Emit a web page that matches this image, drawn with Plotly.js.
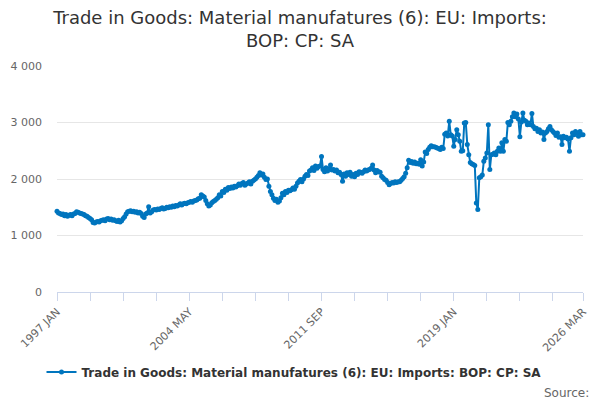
<!DOCTYPE html>
<html>
<head>
<meta charset="utf-8">
<script src="https://cdn.plot.ly/plotly-3.0.1.min.js"></script>
<style>html,body{margin:0;padding:0;background:#fff;}#chart{width:600px;height:400px;}</style>
</head>
<body>
<div id="chart"></div>
<script>
var startYear = 1997;
var monthNames = ["JAN","FEB","MAR","APR","MAY","JUN","JUL","AUG","SEP","OCT","NOV","DEC"];
var seriesName = "Trade in Goods: Material manufatures (6): EU: Imports: BOP: CP: SA";
var values = [
  // 1997
  1430,1400,1390,1370,1380,1350,1370,1340,1360,1370,1350,1380,
  // 1998
  1390,1420,1410,1400,1390,1380,1370,1350,1340,1320,1300,1280,
  // 1999
  1230,1220,1240,1250,1240,1260,1270,1280,1260,1290,1300,1280,
  // 2000
  1290,1270,1280,1260,1250,1270,1240,1260,1300,1330,1380,1420,
  // 2001
  1430,1440,1420,1430,1410,1420,1400,1410,1390,1340,1320,1380,
  // 2002
  1400,1510,1400,1420,1450,1460,1450,1470,1460,1480,1490,1470,
  // 2003
  1480,1500,1490,1510,1500,1520,1510,1530,1520,1540,1560,1540,
  // 2004
  1560,1570,1560,1580,1590,1600,1590,1610,1620,1630,1650,1660,
  // 2005
  1720,1700,1680,1620,1560,1520,1540,1580,1600,1620,1640,1670,
  // 2006
  1720,1700,1780,1760,1820,1800,1850,1830,1860,1840,1870,1860,
  // 2007
  1880,1910,1890,1920,1940,1890,1910,1930,1950,1910,1960,1980,
  // 2008
  2000,2030,2060,2110,2070,2090,2030,1990,2000,1870,1780,1720,
  // 2009
  1660,1620,1640,1590,1610,1670,1750,1720,1780,1760,1800,1790,
  // 2010
  1810,1840,1820,1870,1930,1960,1990,1950,2000,2050,2080,2060,
  // 2011
  2140,2160,2200,2150,2230,2190,2220,2230,2400,2170,2130,2200,
  // 2012
  2140,2180,2250,2160,2170,2140,2160,2110,2120,2080,1960,2090,
  // 2013
  2050,2110,2080,2120,2050,2080,2040,2100,2080,2130,2120,2100,
  // 2014
  2130,2160,2140,2160,2170,2190,2250,2160,2110,2150,2130,2120,
  // 2015
  2050,2020,1990,1980,1940,1900,1920,1940,1930,1950,1940,1950,
  // 2016
  1950,1980,2010,2040,2100,2200,2330,2290,2310,2280,2300,2270,
  // 2017
  2280,2260,2340,2230,2300,2480,2450,2520,2560,2590,2570,2570,
  // 2018
  2560,2550,2540,2520,2560,2540,2790,2815,2760,3020,2785,2760,
  // 2019
  2580,2700,2873,2785,2670,2490,2500,2990,3000,2610,2430,2290,
  // 2020
  2270,2255,2240,1577,1459,2020,2040,2070,2313,2373,2460,2962,
  // 2021
  2166,2430,2440,2460,2430,2490,2550,2490,2640,2490,2700,2670,
  // 2022
  3000,2960,3020,3100,3170,3100,3150,3060,2750,3010,3170,3040,
  // 2023
  3020,2960,2990,2960,3160,2930,2890,2900,2840,2870,2815,2830,
  // 2024
  2700,2815,2840,2890,2930,2870,2840,2815,2770,2815,2740,2750,
  // 2025
  2610,2755,2730,2740,2710,2490,2730,2815,2785,2840,2815,2755,
  // 2026
  2840,2785,2785
];
var tickLabels = ["1997 JAN","2004 MAY","2011 SEP","2019 JAN","2026 MAR"];
var yTicks = [0,1000,2000,3000,4000];

var categories = values.map(function(v,i){
  return (startYear + Math.floor(i/12)) + " " + monthNames[i%12];
});
var xIdx = values.map(function(v,i){ return i; });

var tickvals = [], ticktext = [];
for (var i = 0; i < values.length; i += 22) {
  tickvals.push(i);
  var lab = categories[i];
  ticktext.push(tickLabels.indexOf(lab) >= 0 ? lab : "");
}
tickvals.push(values.length-1);
ticktext.push(categories[values.length-1]);

var trace = {
  x: xIdx, y: values, text: categories,
  type: "scatter", mode: "lines+markers",
  name: seriesName,
  line: {color: "#0075be", width: 2},
  marker: {color: "#0075be", size: 5},
  cliponaxis: false,
  hovertemplate: "%{text}: %{y}<extra></extra>"
};

var layout = {
  width: 600, height: 400,
  margin: {l: 57, r: 17, t: 66, b: 107.5},
  paper_bgcolor: "#fff", plot_bgcolor: "#fff",
  separators: ". ",
  font: {family: "DejaVu Sans, sans-serif", color: "#666", size: 11},
  title: {
    text: "Trade in Goods: Material manufatures (6): EU: Imports:<br>BOP: CP: SA",
    font: {family: "DejaVu Sans, sans-serif", size: 18, color: "#333"},
    x: 0.5, xanchor: "center", xref: "container",
    y: 0.94, yanchor: "middle", yref: "container"
  },
  xaxis: {
    type: "linear", range: [0, values.length-1],
    tickmode: "array", tickvals: tickvals, ticktext: ticktext,
    tickangle: -45, ticks: "outside", ticklen: 8, tickcolor: "#ccd6eb",
    showline: true, linecolor: "#ccd6eb", linewidth: 1,
    showgrid: false, zeroline: false,
    tickfont: {size: 11, color: "#666"}
  },
  yaxis: {
    range: [0, 4000], tickmode: "array", tickvals: yTicks,
    tickformat: ",", showgrid: true, gridcolor: "#e6e6e6",
    zeroline: false, showline: false, ticks: "",
    ticklabelstandoff: 14,
    tickfont: {size: 11, color: "#666"}
  },
  showlegend: true,
  legend: {
    orientation: "h", xref: "container", x: 0.49, xanchor: "center",
    yref: "container", y: 0.07, yanchor: "middle",
    font: {family: "DejaVu Sans, sans-serif", size: 12, color: "#333", weight: "bold"}
  },
  annotations: [{
    text: "Source:", xref: "paper", yref: "paper",
    x: 1.015, xanchor: "right",
    y: -0.445, yanchor: "middle", showarrow: false,
    font: {family: "DejaVu Sans, sans-serif", size: 12, color: "#666"}
  }]
};

Plotly.newPlot("chart", [trace], layout, {displayModeBar: false});
</script>
</body>
</html>
